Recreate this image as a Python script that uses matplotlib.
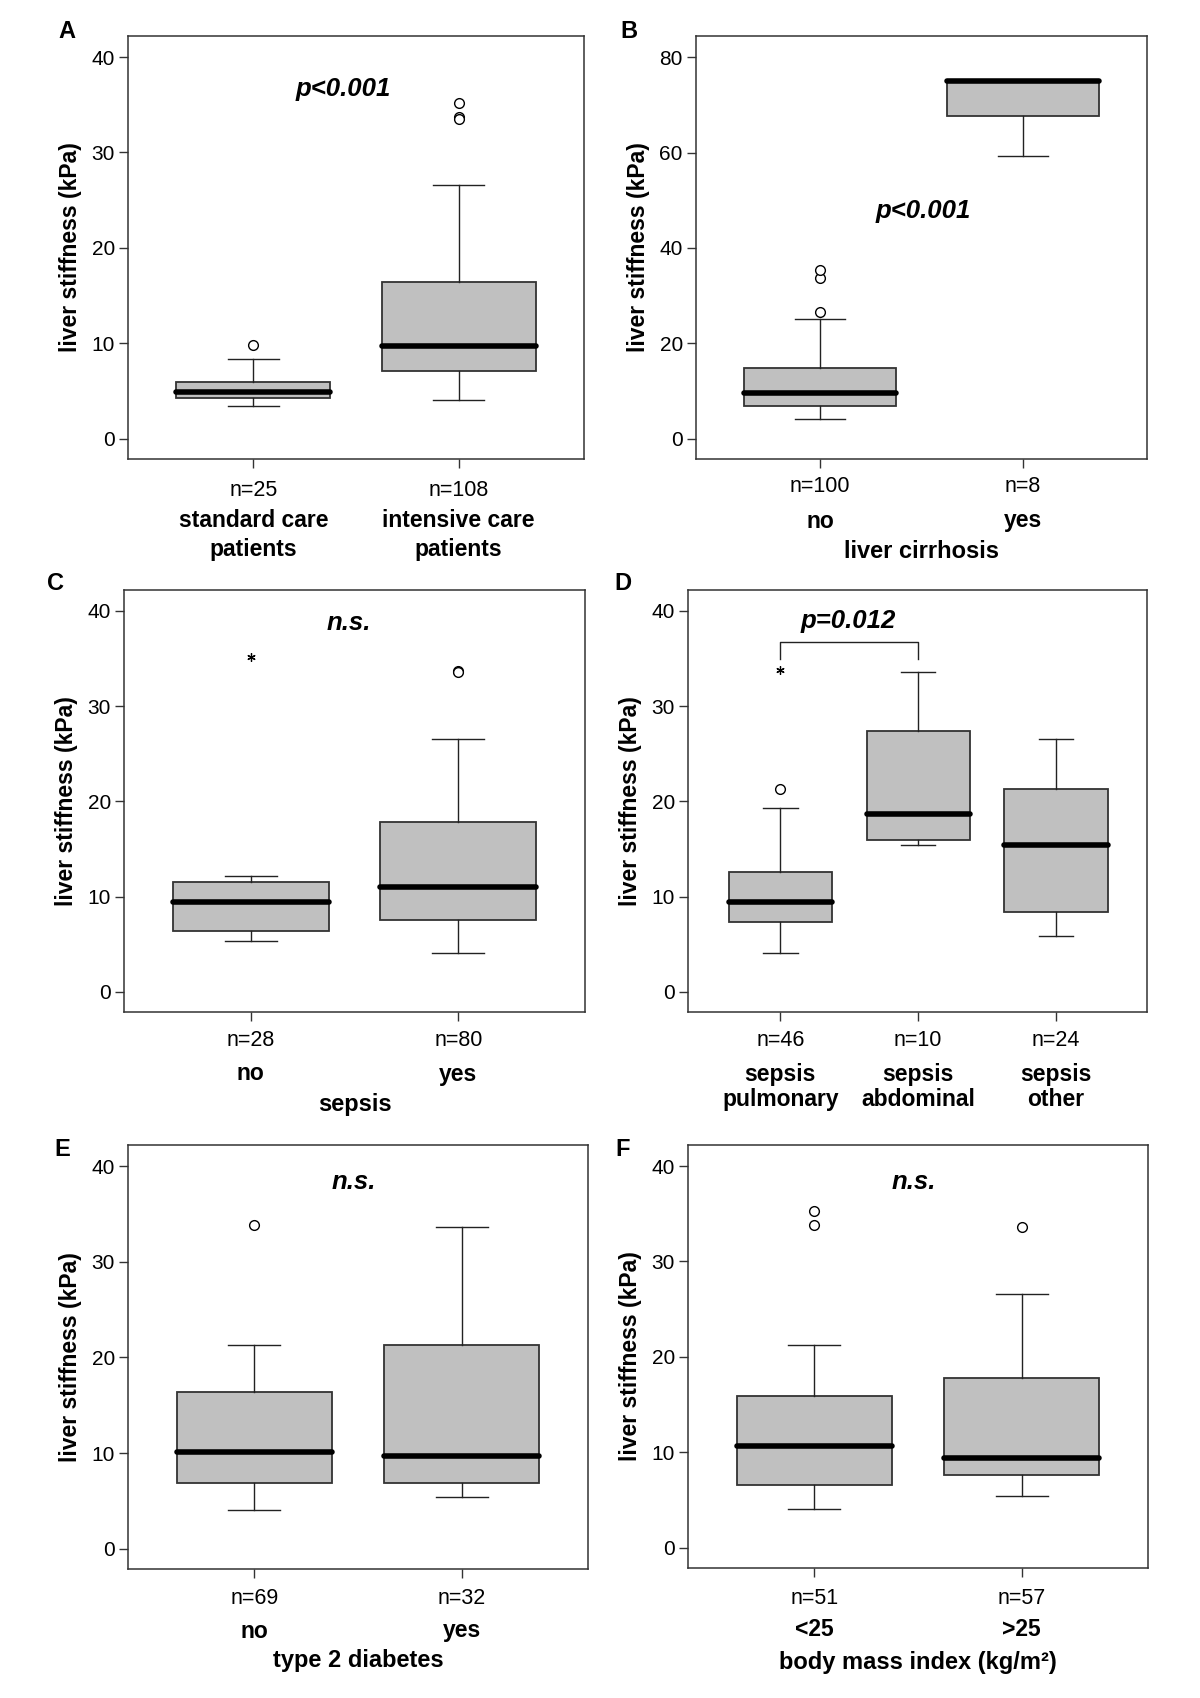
import matplotlib
matplotlib.use('Agg')
import matplotlib.pyplot as plt
from matplotlib import transforms

plt.rcParams['font.family'] = ['Liberation Sans', 'DejaVu Sans']

W, H = 1200, 1698

# ---- data (liver stiffness, kPa) ----
# A: care setting
A_cats = ['standard care\npatients', 'intensive care\npatients']
A_n = ['n=25', 'n=108']
A_low = [3.4, 4.1]
A_q1 = [4.3, 7.15]
A_med = [4.95, 9.7]
A_q3 = [6.0, 16.4]
A_high = [8.4, 26.6]
A_out = [[9.85], [35.2, 33.7, 33.5]]
A_ext = [[], []]

# B: liver cirrhosis
B_cats = ['no', 'yes']
B_n = ['n=100', 'n=8']
B_low = [4.0, 59.4]
B_q1 = [6.8, 67.8]
B_med = [9.5, 75.1]
B_q3 = [14.8, 75.1]
B_high = [25.1, 75.1]
B_out = [[26.6, 33.6, 35.4], []]
B_ext = [[], []]

# C: sepsis
C_cats = ['no', 'yes']
C_n = ['n=28', 'n=80']
C_low = [5.4, 4.05]
C_q1 = [6.4, 7.6]
C_med = [9.45, 11.0]
C_q3 = [11.5, 17.8]
C_high = [12.2, 26.6]
C_out = [[], [33.7, 33.6]]
C_ext = [[35.2], []]

# D: sepsis focus
D_cats = ['sepsis\npulmonary', 'sepsis\nabdominal', 'sepsis\nother']
D_n = ['n=46', 'n=10', 'n=24']
D_low = [4.1, 15.4, 5.9]
D_q1 = [7.3, 16.0, 8.4]
D_med = [9.4, 18.7, 15.4]
D_q3 = [12.6, 27.4, 21.3]
D_high = [19.3, 33.6, 26.6]
D_out = [[21.3], [], []]
D_ext = [[33.8], [], []]

# E: type 2 diabetes
E_cats = ['no', 'yes']
E_n = ['n=69', 'n=32']
E_low = [4.1, 5.4]
E_q1 = [6.85, 6.85]
E_med = [10.1, 9.7]
E_q3 = [16.35, 21.3]
E_high = [21.3, 33.6]
E_out = [[33.8], []]
E_ext = [[], []]

# F: body mass index
F_cats = ['<25', '>25']
F_n = ['n=51', 'n=57']
F_low = [4.07, 5.4]
F_q1 = [6.6, 7.6]
F_med = [10.7, 9.45]
F_q3 = [15.95, 17.8]
F_high = [21.3, 26.6]
F_out = [[35.3, 33.8], [33.6]]
F_ext = [[], []]

fig = plt.figure(figsize=(12, 16.98), dpi=100)


def fy(ypx):
    return 1 - ypx / H


def panel(box, letter, letter_xy, cats, ns, low, q1, med, q3, high, out, ext,
          ylim, yticks, n_y, cat_y, title=None, title_y=None, ptext=None, pxy=None,
          lsp=1.15):
    l, t, r, b = box
    ax = fig.add_axes([l / W, 1 - b / H, (r - l) / W, (b - t) / H])
    pos = list(range(1, len(cats) + 1))
    stats = []
    for i in range(len(cats)):
        stats.append(dict(med=med[i], q1=q1[i], q3=q3[i], whislo=low[i],
                          whishi=high[i], fliers=out[i]))
    ax.bxp(stats, positions=pos, widths=0.75, capwidths=0.25, patch_artist=True,
           boxprops=dict(facecolor='#c0c0c0', edgecolor='#333333', linewidth=1.3),
           medianprops=dict(color='black', linewidth=4.0, solid_capstyle='round'),
           whiskerprops=dict(color='#222222', linewidth=1.0),
           capprops=dict(color='#222222', linewidth=1.0),
           flierprops=dict(marker='o', markerfacecolor='white', markeredgecolor='black',
                           markersize=7, markeredgewidth=1.0))
    for i, e in enumerate(ext):
        if e:
            ax.plot([pos[i]] * len(e), e, linestyle='none', marker=(6, 2, 0),
                    color='black', markersize=6, markeredgewidth=0.9)
    n = len(cats)
    ax.set_xlim(0.39 if n == 2 else 0.33, n + 0.61 if n == 2 else n + 0.66)
    ax.set_ylim(*ylim)
    ax.set_yticks(yticks)
    ax.set_xticks(pos)
    ax.set_xticklabels([])
    ax.tick_params(direction='out', length=6.5, width=1, labelsize=15, color='#333333',
                   pad=3)
    for s in ax.spines.values():
        s.set_linewidth(1.1)
        s.set_color('#333333')
    ax.set_ylabel('liver stiffness (kPa)', fontsize=16.5, fontweight='bold')
    ax.yaxis.set_label_coords(-46 / (r - l), 0.5)
    tr = transforms.blended_transform_factory(ax.transData, fig.transFigure)
    for i in range(n):
        ax.text(pos[i], fy(n_y), ns[i], transform=tr, ha='center', va='center', fontsize=15.5)
        ax.text(pos[i], fy(cat_y), cats[i], transform=tr, ha='center', va='center',
                fontsize=16.5, fontweight='bold', linespacing=lsp)
    if title:
        ax.text((pos[0] + pos[-1]) / 2, fy(title_y), title, transform=tr, ha='center',
                va='center', fontsize=17, fontweight='bold')
    if ptext:
        ax.text(pxy[0], pxy[1], ptext, ha='center', va='center', fontsize=18.5,
                fontweight='bold', style='italic')
    fig.text(letter_xy[0] / W, fy(letter_xy[1]), letter, fontsize=17, fontweight='bold',
             ha='center', va='center')
    return ax


yl = (-2.1, 42.2)
yt = [0, 10, 20, 30, 40]

panel((128, 36, 584, 459), 'A', (67, 32), A_cats, A_n, A_low, A_q1, A_med, A_q3, A_high,
      A_out, A_ext, yl, yt, 491, 535, ptext='p<0.001', pxy=(1.44, 36.6), lsp=1.33)
panel((696, 36, 1147, 459), 'B', (629, 32), B_cats, B_n, B_low, B_q1, B_med, B_q3, B_high,
      B_out, B_ext, (-4.3, 84.5), [0, 20, 40, 60, 80], 487, 521,
      title='liver cirrhosis', title_y=551, ptext='p<0.001', pxy=(1.51, 47.7))
panel((124, 590, 585, 1012), 'C', (56, 583), C_cats, C_n, C_low, C_q1, C_med, C_q3, C_high,
      C_out, C_ext, yl, yt, 1040, 1074, title='sepsis', title_y=1104,
      ptext='n.s.', pxy=(1.47, 38.7))
ax_d = panel((688, 590, 1147, 1012), 'D', (623, 583), D_cats, D_n, D_low, D_q1, D_med, D_q3,
             D_high, D_out, D_ext, yl, yt, 1040, 1087, ptext='p=0.012', pxy=(1.49, 38.9),
             lsp=1.08)
ax_d.plot([1, 1, 2, 2], [35.0, 36.7, 36.7, 35.0], color='#222222', linewidth=1.0)
panel((128, 1145, 588, 1569), 'E', (62, 1150), E_cats, E_n, E_low, E_q1, E_med, E_q3, E_high,
      E_out, E_ext, yl, yt, 1598, 1631, title='type 2 diabetes', title_y=1661,
      ptext='n.s.', pxy=(1.48, 38.3))
panel((688, 1145, 1148, 1568), 'F', (623, 1149), F_cats, F_n, F_low, F_q1, F_med, F_q3, F_high,
      F_out, F_ext, yl, yt, 1599, 1630, title='body mass index (kg/m²)', title_y=1662,
      ptext='n.s.', pxy=(1.48, 38.3))

fig.savefig('out.png', dpi=100, facecolor='white')
